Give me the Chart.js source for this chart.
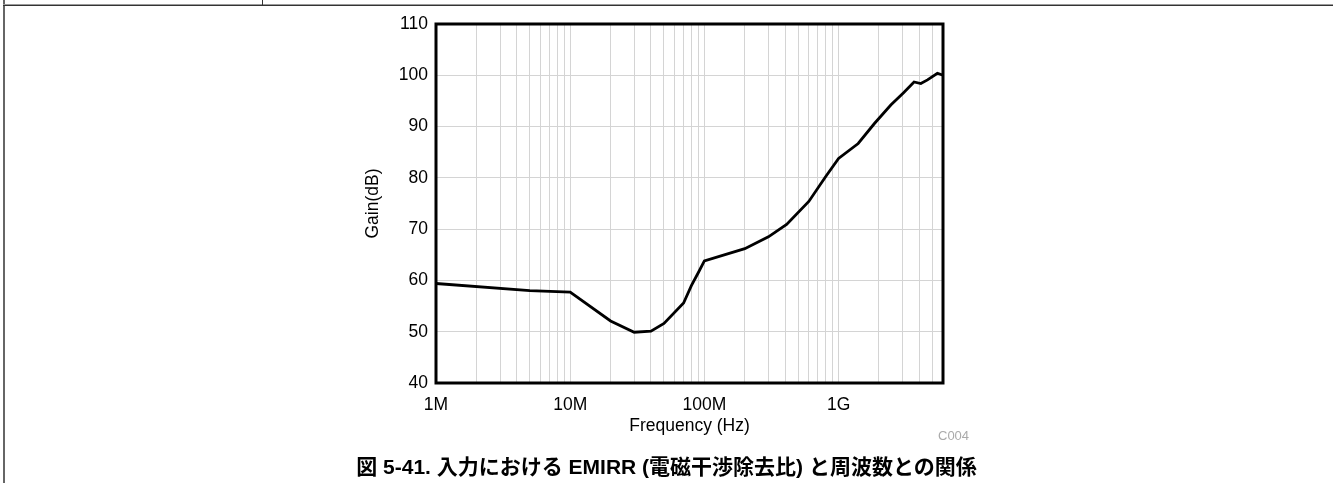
<!DOCTYPE html>
<html lang="ja">
<head>
<meta charset="UTF-8">
<title>EMIRR vs Frequency</title>
<script src="https://cdn.jsdelivr.net/npm/chart.js@4.4.0/dist/chart.umd.min.js"></script>
<style>
  html, body { margin: 0; padding: 0; background: #fff; }
  body { width: 1333px; height: 483px; position: relative; overflow: hidden; font-family: "Liberation Sans", Arial, sans-serif; }
  #wrap { position: absolute; left: 0; top: 0; width: 1333px; height: 483px; }
  .rule-h1 { position: absolute; left: 3px; top: 4px; width: 1330px; height: 1px; background: #9a9a9a; }
  .rule-h2 { position: absolute; left: 3px; top: 5px; width: 1330px; height: 1px; background: #333; }
  .rule-v { position: absolute; left: 3px; top: 0; width: 2px; height: 483px; background: #666; }
  .rule-v2 { position: absolute; left: 262px; top: 0; width: 1px; height: 5px; background: #333; }
  #code { position: absolute; left: 938px; top: 428px; font-size: 13px; color: #aaa; }
  #caption { position: absolute; left: 0; width: 1333px; top: 450px; text-align: center;
             font-family: "Liberation Sans", "Noto Sans CJK JP", sans-serif; font-weight: bold; font-size: 21px; color: #000; }
</style>
</head>
<body>
<div class="rule-v"></div>
<div class="rule-h1"></div>
<div class="rule-h2"></div>
<div class="rule-v2"></div>
<div id="wrap"><canvas id="chart" width="1333" height="483"></canvas></div>
<div id="code">C004</div>
<div id="caption">図 5-41. 入力における EMIRR (電磁干渉除去比) と周波数との関係</div>

<script>
// values
const freqHz = [1e6, 5e6, 1e7, 2e7, 3e7, 4e7, 5e7, 7e7, 8e7, 9e7, 1e8, 2e8, 3e8, 4.1e8, 6e8, 8e8,
                1e9, 1.4e9, 1.85e9, 2.45e9, 3.05e9, 3.65e9, 4.1e9, 4.6e9, 5.45e9, 6e9];
const gainDb = [59.4, 58.0, 57.7, 52.1, 49.9, 50.1, 51.6, 55.6, 59.0, 61.5, 63.8, 66.2, 68.5, 70.9, 75.4, 80.2,
                83.8, 86.7, 90.6, 94.2, 96.6, 98.7, 98.4, 99.1, 100.4, 100.0];

const xMin = 1e6, xMax = 6e9;
const xTickValues = [1e6, 1e7, 1e8, 1e9];
const xTickLabels = ['1M', '10M', '100M', '1G'];
const yMin = 40, yMax = 110, yStep = 10;

// frame geometry (px)
const AREA = { left: 436, top: 24, right: 943, bottom: 383 };
const Y_AXIS_W = 73.5;
const X_AXIS_H = 53.5;

const tickFont = { family: '"Liberation Sans", Arial, sans-serif', size: 17.5 };

const framePlugin = {
  id: 'frame',
  afterDatasetsDraw(chart) {
    const { ctx, chartArea: a } = chart;
    ctx.save();
    ctx.strokeStyle = '#000';
    ctx.lineWidth = 3;
    ctx.strokeRect(a.left, a.top, a.right - a.left, a.bottom - a.top);
    ctx.restore();
  }
};

new Chart(document.getElementById('chart'), {
  type: 'line',
  data: {
    datasets: [{
      data: freqHz.map((f, i) => ({ x: f, y: gainDb[i] })),
      borderColor: '#000',
      borderWidth: 2.8,
      pointRadius: 0,
      tension: 0,
      fill: false
    }]
  },
  options: {
    responsive: false,
    animation: false,
    layout: {
      padding: {
        left: AREA.left - Y_AXIS_W,
        top: AREA.top,
        right: 1333 - AREA.right,
        bottom: 483 - AREA.bottom - X_AXIS_H
      }
    },
    plugins: { legend: { display: false }, tooltip: { enabled: false } },
    scales: {
      x: {
        type: 'logarithmic',
        min: xMin,
        max: xMax,
        afterFit(s) { s.height = X_AXIS_H; },
        afterBuildTicks(s) {
          const ticks = [];
          for (let d = 1e6; d <= xMax; d *= 10) {
            for (let m = 1; m <= 9; m++) {
              const v = m * d;
              if (v <= xMax * 1.0001) ticks.push({ value: v });
            }
          }
          s.ticks = ticks;
        },
        ticks: {
          autoSkip: false,
          maxRotation: 0,
          padding: 12,
          color: '#000',
          font: tickFont,
          callback(v) {
            const i = xTickValues.findIndex(t => Math.abs(t - v) / t < 1e-6);
            return i >= 0 ? xTickLabels[i] : '';
          }
        },
        grid: { color: '#d4d4d4', lineWidth: 1, drawTicks: false },
        border: { display: false },
        title: { display: true, text: 'Frequency (Hz)', color: '#000', font: tickFont, padding: 0 }
      },
      y: {
        min: yMin,
        max: yMax,
        afterFit(s) { s.width = Y_AXIS_W; },
        ticks: { stepSize: yStep, padding: 8, color: '#000', font: tickFont },
        grid: { color: '#d4d4d4', lineWidth: 1, drawTicks: false },
        border: { display: false },
        title: { display: true, text: 'Gain(dB)', color: '#000', font: tickFont, padding: 0 }
      }
    }
  },
  plugins: [framePlugin]
});
</script>
</body>
</html>
